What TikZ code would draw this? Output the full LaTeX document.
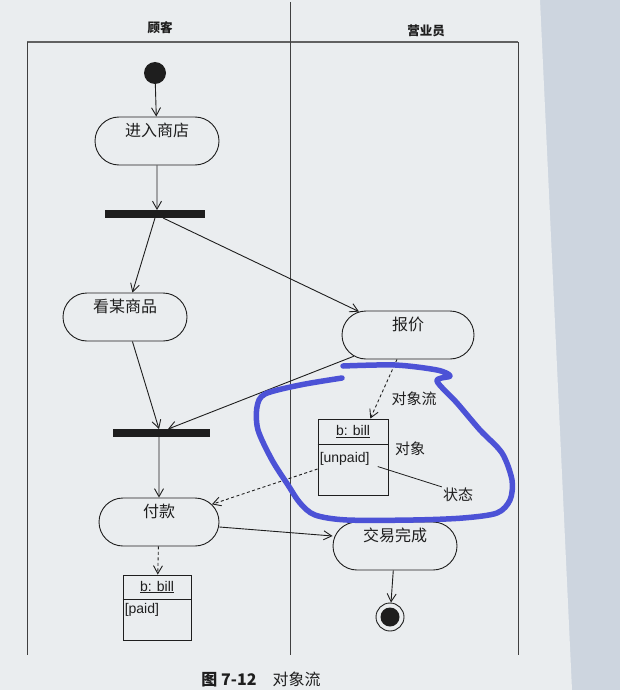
\documentclass[tikz,border=0pt]{standalone}
\usepackage{fontspec}
\setmainfont{Liberation Sans}
\newfontfamily\cjk{Noto Sans CJK SC}
\usetikzlibrary{arrows.meta,shapes.misc}
\definecolor{ink}{HTML}{1E1E1E}
\definecolor{paper}{HTML}{EAEDEF}
\definecolor{offpage}{HTML}{CDD5DF}
\definecolor{pen}{RGB}{76,82,214}
\begin{document}
\begin{tikzpicture}[x=1pt,y=-1pt,
  flow/.style={draw=ink, line width=0.9pt, -{Straight Barb[length=8pt,width=9pt]}},
  objflow/.style={flow, dash pattern=on 3pt off 2.5pt},
  act/.style={draw=ink, line width=0.9pt, rounded rectangle, minimum width=124pt,
    inner xsep=0pt, inner ysep=0pt, text height=19pt, text depth=29pt,
    font=\cjk\fontsize{16}{16}\selectfont, text=ink},
  bar/.style={fill=ink, minimum width=100pt, minimum height=7.5pt, inner sep=0pt},
  objbox/.style={draw=ink, line width=0.9pt, inner sep=0pt},
  objtxt/.style={font=\fontsize{14}{14}\selectfont, inner sep=0pt, text=ink},
  lbl/.style={font=\cjk\fontsize{15}{15}\selectfont, inner sep=1pt, text=ink},
  lane/.style={draw=ink!85, line width=0.9pt},
  head/.style={font=\cjk\bfseries\fontsize{12.5}{12.5}\selectfont, text=ink},
]
% background
\fill[offpage] (0,0) rectangle (620,690);
\fill[paper] (0,0) -- (540,0) -- (572,690) -- (0,690) -- cycle;
\useasboundingbox (0,0) rectangle (620,690);

% swimlanes
\draw[draw=ink!70, line width=2.4pt] (27,42) -- (518,42);
\draw[lane] (27,42) -- (27,655);
\draw[lane] (290,2) -- (290,655);
\draw[lane] (518,42) -- (518,655);
\node[head] (h1) at (160,28) {顾客};
\node[head] (h2) at (426,31) {营业员};

% nodes
\node[circle, fill=ink, minimum size=22pt, inner sep=0pt] (start) at (155,73) {};
\node[act] (enter) at (157,141) {进入商店};
\node[bar] (fork) at (155,214) {};
\node[act] (look) at (125,317) {看某商品};
\node[act, minimum width=132pt] (quote) at (408,335) {报价};
\node[bar, minimum width=97pt] (join) at (161,433) {};
\node[act, minimum width=120pt] (pay) at (159,522) {付款};
\node[act] (done) at (395,546) {交易完成};
\node[circle, draw=ink, line width=0.9pt, minimum size=28pt, inner sep=0pt] (end) at (390,617) {};
\node[circle, fill=ink, minimum size=19pt, inner sep=0pt] (endin) at (end.center) {};

% object b:bill [unpaid]
\node[objbox, minimum width=70pt, minimum height=76pt] (bill1) at (353,457) {};
\draw[draw=ink, line width=0.9pt] ([yshift=-26pt]bill1.north west) -- ([yshift=-26pt]bill1.north east);
\node[objtxt] (bill1name) at ([yshift=-13pt]bill1.north) {\underline{b: bill}};
\node[objtxt, anchor=west] (bill1state) at ([xshift=2pt,yshift=-40pt]bill1.north west) {[unpaid]};

% object b:bill [paid]
\node[objbox, minimum width=68pt, minimum height=65pt] (bill2) at (157,607.5) {};
\draw[draw=ink, line width=0.9pt] ([yshift=-25pt]bill2.north west) -- ([yshift=-25pt]bill2.north east);
\node[objtxt] (bill2name) at ([yshift=-12.5pt]bill2.north) {\underline{b: bill}};
\node[objtxt, anchor=west] (bill2state) at ([xshift=2pt,yshift=-35pt]bill2.north west) {[paid]};

% labels
\node[lbl] (lflow) at (414,399) {对象流};
\node[lbl] (lobj) at (410,449) {对象};
\node[lbl] (lstate) at (458,495) {状态};
\draw[ink, line width=0.8pt] ([xshift=8pt,yshift=-8pt]bill1state.east) -- (lstate.north west);

% connectors
\draw[flow] (start) -- (enter);
\draw[flow] (enter) -- (enter |- fork.north);
\draw[flow] (fork.south) -- (look);
\draw[flow] ([xshift=8pt]fork.south) -- (quote);
\draw[flow] (look) -- ([xshift=-2pt]join.north);
\draw[flow] (quote) -- ([xshift=7pt]join.north);
\draw[flow] (join.south -| pay) -- (pay);
\draw[flow] ([yshift=-5pt]pay.east) -- ([yshift=10pt]done.west);
\draw[flow] (done) -- (end);
\draw[objflow] (quote) -- (bill1);
\draw[objflow] ([yshift=-12pt]bill1.west) -- (pay);
\draw[objflow] (pay) -- (bill2);

% caption
\node[font=\cjk\fontsize{16}{16}\selectfont, text=ink] (cap) at (261,680) {{\bfseries 图 7-12}\quad 对象流};

% hand-drawn highlight
\draw[pen, line width=5.5pt, line cap=round, line join=round]
  plot[smooth, tension=0.5] coordinates {(343,366) (395,365) (437,370) (450,376) (437,381)
  (457,403) (480,430) (502,453) (512,480) (510,500) (497,513) (463,518) (413,520)
  (347,520) (315,515) (300,503) (288,485) (272,460) (258,430) (257,407) (265,394)
  (300,385) (342,378)};
\end{tikzpicture}
\end{document}
